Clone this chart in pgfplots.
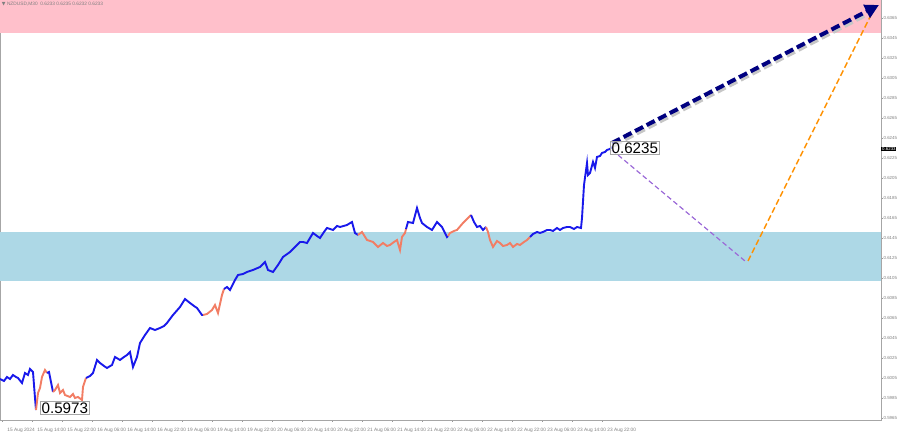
\documentclass[border=0pt]{standalone}
\usepackage{fontspec}
\setmainfont{Liberation Sans}
\newfontfamily\symfont{DejaVu Sans}
\usepackage{pgfplots}
\pgfplotsset{compat=1.18}
\usetikzlibrary{arrows.meta}

\definecolor{upblue}{RGB}{25,25,235}
\definecolor{dnsalmon}{RGB}{242,125,100}
\definecolor{zonepink}{RGB}{255,192,203}
\definecolor{zoneblue}{RGB}{173,216,230}
\definecolor{navyarr}{RGB}{0,0,128}
\definecolor{purplearr}{RGB}{155,105,215}
\definecolor{orangearr}{RGB}{255,145,0}

\begin{document}
\begin{tikzpicture}
\begin{axis}[
    width=440.5pt, height=210pt, scale only axis,
    xmin=0, xmax=881, ymin=0.5963, ymax=0.6383,
    clip=false,
    axis line style={gray!70, line width=0.4pt},
    xtick={2,32,62,92,122,152,182,212,242,272,302,332,362,392,422,452,482,512,542,572,602},
    xticklabels={15 Aug 2024,15 Aug 14:00,15 Aug 22:00,16 Aug 06:00,16 Aug 14:00,16 Aug 22:00,
        19 Aug 06:00,19 Aug 14:00,19 Aug 22:00,20 Aug 06:00,20 Aug 14:00,20 Aug 22:00,
        21 Aug 06:00,21 Aug 14:00,21 Aug 22:00,22 Aug 06:00,22 Aug 14:00,22 Aug 22:00,
        23 Aug 06:00,23 Aug 14:00,23 Aug 22:00},
    ytick={0.5965,0.5985,0.6005,0.6025,0.6045,0.6065,0.6085,0.6105,0.6125,0.6145,
        0.6165,0.6185,0.6205,0.6225,0.6245,0.6265,0.6285,0.6305,0.6325,0.6345,0.6365},
    yticklabel pos=right, xtick pos=bottom, ytick pos=right,
    tick align=outside, major tick length=1pt,
    tick style={gray!80, line width=0.3pt},
    /pgf/number format/assume math mode=true,
    /pgf/number format/fixed, /pgf/number format/fixed zerofill, /pgf/number format/precision=4,
    y tick label style={font=\fontsize{2.2}{2.4}\selectfont, text=gray, anchor=west, inner sep=0.4pt, xshift=-0.3pt},
    x tick label style={font=\fontsize{2.4}{2.6}\selectfont, text=gray, anchor=north west, xshift=-0.8pt, yshift=0.5pt},
]
\coordinate (tl) at (rel axis cs:0,1);

% zones
\addplot[draw=none, fill=zonepink] coordinates {(0,0.6350) (881,0.6350) (881,0.6383) (0,0.6383)} --cycle;
\addplot[draw=none, fill=zoneblue] coordinates {(0,0.6102) (881,0.6102) (881,0.6151) (0,0.6151)} --cycle;

% price path, x in chart pixels
\addplot[upblue, line width=0.95pt] coordinates {
(0,0.6004) (4,0.6002) (7,0.6006) (10,0.6004) (13,0.6008) (16,0.6006) (18,0.6005) (22,0.6000)
(25,0.6010) (28,0.6008) (30,0.6014) (33,0.6011) (35,0.5985) (36,0.5973)};
\addplot[dnsalmon, line width=0.95pt] coordinates {
(36,0.5973) (38,0.5990) (40,0.5995) (42,0.6006) (45,0.6013) (47,0.6010)};
\addplot[upblue, line width=0.95pt] coordinates {
(47,0.6010) (49,0.6011) (52,0.5996) (53,0.5991)};
\addplot[dnsalmon, line width=0.95pt] coordinates {
(53,0.5991) (55,0.5993) (58,0.5998) (60,0.5990) (63,0.5993) (65,0.5988) (70,0.5986)
(73,0.5989) (75,0.5985) (78,0.5986) (82,0.5983) (83,0.5996) (86,0.6005)};
\addplot[upblue, line width=0.95pt] coordinates {
(86,0.6005) (90,0.6007) (93,0.6010) (97,0.6023) (100,0.6020) (104,0.6017) (107,0.6015)
(112,0.6018) (115,0.6026) (120,0.6023) (124,0.6026) (127,0.6028) (130,0.6031) (133,0.6016)
(137,0.6026) (140,0.6040) (145,0.6048) (150,0.6055) (155,0.6053) (160,0.6055) (164,0.6057)
(167,0.6060) (173,0.6068) (180,0.6076) (185,0.6084) (190,0.6080) (194,0.6077) (197,0.6075)
(202,0.6068) (203,0.6068)};
\addplot[dnsalmon, line width=0.95pt] coordinates {
(203,0.6068) (207,0.6069) (212,0.6073) (215,0.6078) (218,0.6070) (222,0.6088) (224,0.6094)};
\addplot[upblue, line width=0.95pt] coordinates {
(224,0.6094) (227,0.6096) (230,0.6093) (235,0.6103) (238,0.6108) (243,0.6109) (247,0.6111)
(253,0.6113) (260,0.6116) (265,0.6121) (268,0.6113) (273,0.6111) (278,0.6118) (283,0.6126)
(290,0.6131) (297,0.6138) (300,0.6141) (303,0.6141) (307,0.6140) (310,0.6145) (313,0.6150)
(317,0.6147) (320,0.6145) (324,0.6151) (327,0.6155) (333,0.6153) (337,0.6157) (340,0.6156)
(347,0.6158) (352,0.6161) (355,0.6150) (358,0.6148)};
\addplot[dnsalmon, line width=0.95pt] coordinates {
(358,0.6148) (362,0.6151) (367,0.6143) (373,0.6141) (378,0.6136) (383,0.6140) (387,0.6137)
(390,0.6138) (394,0.6141) (397,0.6143) (400,0.6133) (402,0.6146) (405,0.6150) (406,0.6154)};
\addplot[upblue, line width=0.95pt] coordinates {
(406,0.6154) (408,0.6161) (413,0.6160) (417,0.6175) (420,0.6165) (422,0.6160) (427,0.6156)
(432,0.6153) (437,0.6161) (442,0.6156) (447,0.6146) (448,0.6147)};
\addplot[dnsalmon, line width=0.95pt] coordinates {
(448,0.6147) (450,0.6150) (454,0.6152) (457,0.6153) (463,0.6160) (467,0.6164) (471,0.6168)};
\addplot[upblue, line width=0.95pt] coordinates {
(471,0.6168) (474,0.6161) (477,0.6156) (480,0.6157) (483,0.6153) (486,0.6156)};
\addplot[dnsalmon, line width=0.95pt] coordinates {
(486,0.6156) (488,0.6151) (490,0.6143) (493,0.6136) (497,0.6142) (500,0.6140) (503,0.6137)
(507,0.6138) (510,0.6140) (513,0.6136) (517,0.6139) (520,0.6138) (524,0.6141) (527,0.6143)
(530,0.6146)};
\addplot[upblue, line width=0.95pt] coordinates {
(530,0.6146) (533,0.6149) (537,0.6151) (540,0.6150) (543,0.6151) (547,0.6153) (550,0.6153)
(553,0.6152) (557,0.6155) (560,0.6153) (563,0.6155) (567,0.6156) (570,0.6156) (574,0.6154)
(577,0.6156) (581,0.6155) (582,0.6165) (584,0.6198) (587,0.6220) (588,0.6208) (590,0.6210)
(593,0.6221) (595,0.6215) (597,0.6226) (600,0.6227) (602,0.6230) (605,0.6231) (607,0.6233)
(610,0.6234) (612,0.6236)};

% forecast arrows
\addplot[purplearr, line width=0.6pt, dash pattern=on 2.5pt off 1.5pt] coordinates {(612,0.6233) (745,0.6122)};
\addplot[orangearr, line width=0.75pt, dash pattern=on 3pt off 1.5pt] coordinates {(748,0.6122) (872,0.6370)};
\addplot[gray!45, line width=2pt, dash pattern=on 4.5pt off 2pt, shorten >=5pt, xshift=0.8pt, yshift=-1.2pt] coordinates {(612,0.6240) (879,0.6378)};
\addplot[navyarr, line width=2pt, dash pattern=on 4.5pt off 2pt, -{Triangle[length=7pt,width=7pt]}] coordinates {(612,0.6240) (879,0.6378)};

% labels
\node[draw=gray!70, fill=white, fill opacity=0.6, text opacity=1, line width=0.4pt, inner sep=0.6pt,
    anchor=west, font=\fontsize{7.6}{8}\selectfont] at (axis cs:610,0.6235) {0.6235};
\node[draw=gray!70, fill=white, fill opacity=0.6, text opacity=1, line width=0.4pt, inner sep=0.6pt,
    anchor=west, font=\fontsize{7.6}{8}\selectfont] at (axis cs:40,0.5975) {0.5973};
\node[fill=black, text=white, inner sep=0.4pt, anchor=west, font=\fontsize{2.2}{2.4}\selectfont]
    at (axis cs:881,0.6234) {0.6233};
\node[anchor=north west, text=gray, inner sep=0.8pt, font=\fontsize{2.4}{2.6}\selectfont]
    at (rel axis cs:0,1) {{\symfont ▼} NZDUSD,M30\ \ 0.6233 0.6235 0.6232 0.6233};
\end{axis}
\pgfresetboundingbox
\path[use as bounding box] (tl) rectangle ++(450pt,-216pt);
\end{tikzpicture}
\end{document}
